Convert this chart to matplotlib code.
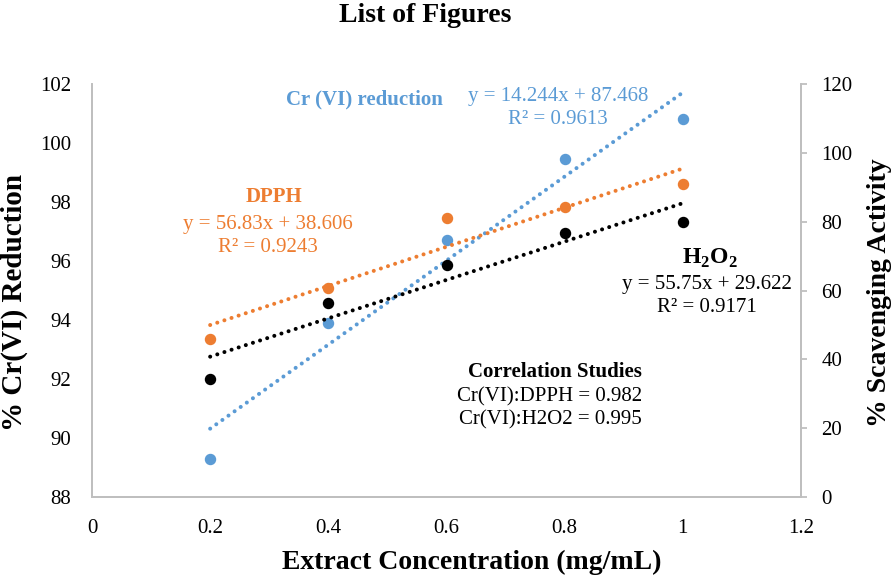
import matplotlib
matplotlib.use("Agg")
import matplotlib.pyplot as plt
import numpy as np

plt.rcParams['font.family'] = ['Liberation Serif', 'DejaVu Serif']
plt.rcParams['mathtext.fontset'] = 'custom'
plt.rcParams['mathtext.rm'] = 'Liberation Serif'
plt.rcParams['mathtext.bf'] = 'Liberation Serif:bold'

# data
conc = [0.2, 0.4, 0.6, 0.8, 1.0]
cr_reduction = [89.3, 93.9, 96.7, 99.45, 100.8]     # left axis
dpph = [45.9, 60.7, 81.2, 84.3, 91.0]               # right axis
h2o2 = [34.4, 56.3, 67.4, 76.6, 79.8]               # right axis

# trendline coefficients (slope, intercept) as printed on the chart
fit_cr = [14.244, 87.468]
fit_dpph = [56.83, 38.606]
fit_h2o2 = [55.75, 29.622]

blue = '#5B9BD5'
orange = '#ED7D31'
grey = '#BFBFBF'

fig = plt.figure(figsize=(8.96, 5.79), dpi=100)
ax = fig.add_axes([92/896, 82/579, 709/896, 413/579])
ax2 = ax.twinx()

xs = np.array([conc[0], conc[-1]])
dot = dict(linestyle=(0, (0.01, 1.85)), dash_capstyle='round', linewidth=2.9)

ax.plot(xs, fit_cr[0]*xs + fit_cr[1], color=blue, zorder=2, **dot)
ax.scatter(conc, cr_reduction, s=52, color=blue, zorder=3)

ax2.plot(xs, fit_dpph[0]*xs + fit_dpph[1], color=orange, zorder=2, **dot)
ax2.plot(xs, fit_h2o2[0]*xs + fit_h2o2[1], color='black', zorder=2, **dot)
ax2.scatter(conc, dpph, s=52, color=orange, zorder=3)
ax2.scatter(conc, h2o2, s=52, color='black', zorder=3)

ax.set_xlim(0, 1.2)
ax.set_ylim(88, 102)
ax2.set_ylim(0, 120)
ax.set_xticks([0, 0.2, 0.4, 0.6, 0.8, 1, 1.2])
ax.set_xticklabels(['0', '0.2', '0.4', '0.6', '0.8', '1', '1.2'])
ax.set_yticks(range(88, 103, 2))
ax2.set_yticks(range(0, 121, 20))

for a in (ax, ax2):
    a.spines['top'].set_visible(False)
    for s in ('left', 'right', 'bottom'):
        a.spines[s].set_color(grey)
        a.spines[s].set_linewidth(1.3)
ax.tick_params(axis='y', length=0, labelsize=15, pad=15)
ax.tick_params(axis='x', length=0, labelsize=15, pad=16)
ax2.tick_params(axis='y', length=4.5, width=1.3, color=grey, labelsize=15, pad=10)

ax.set_xlabel('Extract Concentration (mg/mL)', fontsize=20, fontweight='bold')
ax.xaxis.set_label_coords((472-92)/709, (497-550)/413)
ax.set_ylabel('% Cr(VI) Reduction', fontsize=21, fontweight='bold')
ax.yaxis.set_label_coords((28-92)/709, (497-302)/413)
ax2.set_ylabel('% Scavenging Activity', fontsize=20, fontweight='bold')
ax2.yaxis.set_label_coords((867-92)/709, (497-293)/413)

def ftext(x, y, s, **kw):
    fig.text(x/896, 1 - y/579, s, ha='center', va='center', **kw)

ftext(425, 16, 'List of Figures', fontsize=20, fontweight='bold')

ftext(364, 99, 'Cr (VI) reduction', color=blue, fontsize=15, fontweight='bold')
ftext(558, 96, 'y = 14.244x + 87.468', color=blue, fontsize=15)
ftext(558, 119, 'R² = 0.9613', color=blue, fontsize=15)

ftext(274, 197, 'DPPH', color=orange, fontsize=15, fontweight='bold')
ftext(268, 225, 'y = 56.83x + 38.606', color=orange, fontsize=15)
ftext(268, 248, 'R² = 0.9243', color=orange, fontsize=15)

ftext(710, 258, 'H$_\\mathbf{2}$O$_\\mathbf{2}$', color='black', fontsize=17, fontweight='bold')
ftext(707, 285, 'y = 55.75x + 29.622', color='black', fontsize=15)
ftext(707, 307, 'R² = 0.9171', color='black', fontsize=15)

ftext(555, 372, 'Correlation Studies', color='black', fontsize=15, fontweight='bold')
ftext(550, 397, 'Cr(VI):DPPH = 0.982', color='black', fontsize=15)
ftext(550, 420, 'Cr(VI):H2O2 = 0.995', color='black', fontsize=15)

fig.savefig('out.png', dpi=100)
